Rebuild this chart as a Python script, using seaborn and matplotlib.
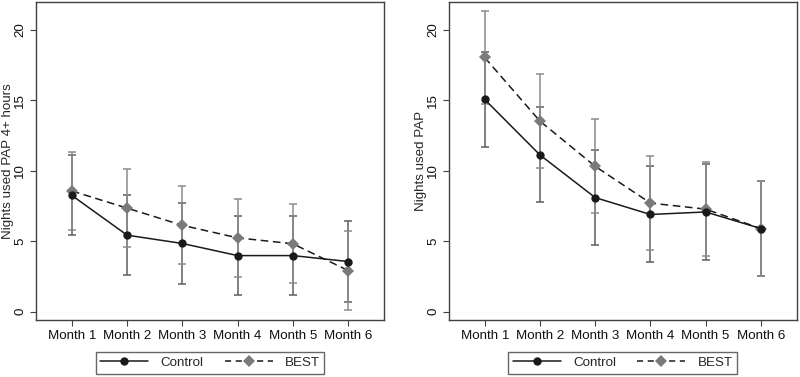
import matplotlib
matplotlib.use("Agg")
import matplotlib.pyplot as plt
import numpy as np
import pandas as pd
import seaborn as sns
from matplotlib.lines import Line2D

sns.set_theme(style="white")
plt.rcParams['font.family'] = ['Liberation Sans', 'DejaVu Sans']

months = ['Month 1', 'Month 2', 'Month 3', 'Month 4', 'Month 5', 'Month 6']

# Panel A: nights used PAP 4+ hours
ctrl4_mean = [8.25, 5.43, 4.84, 3.98, 3.98, 3.56]
ctrl4_lo = [5.44, 2.58, 1.99, 1.16, 1.16, 0.71]
ctrl4_hi = [11.10, 8.28, 7.69, 6.81, 6.81, 6.41]
best4_mean = [8.57, 7.35, 6.13, 5.24, 4.82, 2.92]
best4_lo = [5.79, 4.57, 3.36, 2.46, 2.01, 0.12]
best4_hi = [11.35, 10.12, 8.91, 8.01, 7.62, 5.72]

# Panel B: nights used PAP
ctrl_mean = [15.07, 11.13, 8.10, 6.90, 7.08, 5.90]
ctrl_lo = [11.70, 7.76, 4.71, 3.52, 3.67, 2.53]
ctrl_hi = [18.44, 14.52, 11.49, 10.31, 10.52, 9.28]
best_mean = [18.05, 13.53, 10.32, 7.71, 7.28, 5.90]
best_lo = [14.73, 10.19, 6.98, 4.38, 3.95, 2.53]
best_hi = [21.36, 16.86, 13.65, 11.02, 10.60, 9.29]

panels = [
    ('Nights used PAP 4+ hours', ctrl4_mean, ctrl4_lo, ctrl4_hi, best4_mean, best4_lo, best4_hi),
    ('Nights used PAP', ctrl_mean, ctrl_lo, ctrl_hi, best_mean, best_lo, best_hi),
]

fig = plt.figure(figsize=(8, 3.77), dpi=100)
ax_pos = [[0.045, 0.151, 0.435, 0.844], [0.561, 0.151, 0.435, 0.844]]

fs = 9.6
frame_col = '#404040'

for pos, (ylabel, cm, clo, chi, bm, blo, bhi) in zip(ax_pos, panels):
    ax = fig.add_axes(pos)
    x = np.arange(len(months))
    df = pd.DataFrame({
        'x': np.concatenate([x, x]),
        'y': cm + bm,
        'group': ['Control'] * 6 + ['BEST'] * 6,
    })

    # error bars (behind the lines)
    ax.errorbar(x, cm, yerr=[np.array(cm) - np.array(clo), np.array(chi) - np.array(cm)],
                fmt='none', ecolor='#5e5e5e', elinewidth=1.1, capsize=3, capthick=1.1, zorder=1)
    ax.errorbar(x, bm, yerr=[np.array(bm) - np.array(blo), np.array(bhi) - np.array(bm)],
                fmt='none', ecolor='#8c8c8c', elinewidth=1.1, capsize=3, capthick=1.1, zorder=1)

    sns.lineplot(data=df[df.group == 'Control'], x='x', y='y', ax=ax, color='#1a1a1a',
                 linewidth=1.1, marker='o', markersize=6, markeredgewidth=0,
                 markerfacecolor='#1a1a1a', zorder=3, legend=False)
    sns.lineplot(data=df[df.group == 'BEST'], x='x', y='y', ax=ax, color='#1a1a1a',
                 linewidth=1.1, linestyle=(0, (5, 3)), marker='D', markersize=6,
                 markeredgewidth=0, markerfacecolor='#7a7a7a', zorder=2, legend=False)

    ax.set_xlim(-0.65, 5.65)
    ax.set_ylim(-0.6, 22)
    ax.set_xticks(x)
    ax.set_xticklabels(months, fontsize=fs)
    ax.set_yticks([0, 5, 10, 15, 20])
    ax.set_yticklabels(['0', '5', '10', '15', '20'], fontsize=fs, rotation=90, va='center')
    ax.set_xlabel('')
    ax.set_ylabel(ylabel, fontsize=fs, va='center')
    ax.yaxis.set_label_coords(-0.081, 0.5)
    ax.tick_params(axis='both', direction='out', length=4, width=0.8, color=frame_col,
                   left=True, bottom=True, pad=3, labelcolor='#111111')
    for s in ax.spines.values():
        s.set_color(frame_col)
        s.set_linewidth(1.0)

    handles = [
        Line2D([], [], color='#1a1a1a', linewidth=1.1, marker='o', markersize=6,
               markeredgewidth=0, markerfacecolor='#1a1a1a'),
        Line2D([], [], color='#1a1a1a', linewidth=1.1, linestyle=(0, (4, 3)), marker='D',
               markersize=6, markeredgewidth=0, markerfacecolor='#7a7a7a'),
    ]
    leg = ax.legend(handles, ['Control', 'BEST'], loc='upper center', bbox_to_anchor=(0.5, -0.1),
                    ncol=2, frameon=True, fancybox=False, fontsize=fs, handlelength=3.6,
                    columnspacing=1.6, borderpad=0.35, handletextpad=0.9, borderaxespad=0)
    leg.get_frame().set_edgecolor(frame_col)
    leg.get_frame().set_linewidth(1.0)

fig.savefig('out.png', dpi=100)
